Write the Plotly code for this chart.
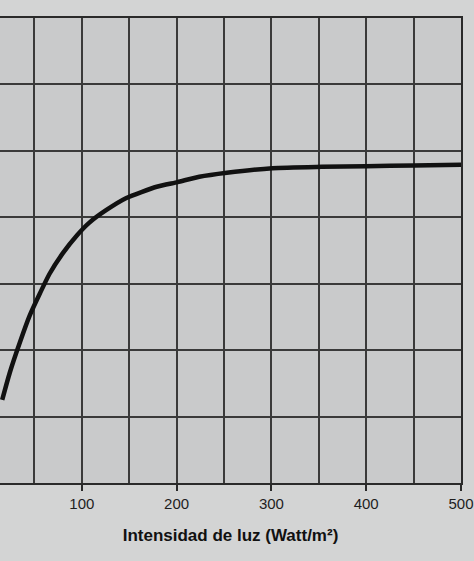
import plotly.graph_objects as go

# values (y in gridline units, axis labels not visible)
intensidad = [16, 24, 35, 45, 56, 66, 80, 95, 108, 126, 147, 179, 201, 224, 253, 301, 353, 400, 450, 500]
tasa = [1.25, 1.66, 2.13, 2.52, 2.86, 3.15, 3.46, 3.73, 3.92, 4.11, 4.29, 4.46, 4.53, 4.61, 4.67, 4.74, 4.76, 4.77, 4.78, 4.79]
x_ticks = [100, 200, 300, 400, 500]

fig = go.Figure()
fig.add_trace(go.Scatter(x=intensidad, y=tasa, mode='lines',
                         line=dict(color='#111111', width=4.5, shape='spline', smoothing=0.6),
                         showlegend=False, hoverinfo='skip'))

fig.update_layout(
    width=474, height=561,
    margin=dict(l=0, r=9, t=18, b=78),
    paper_bgcolor='#d3d4d4', plot_bgcolor='#c9cacb',
    font=dict(family='Liberation Sans, Arial, sans-serif', color='#1e1e1e'),
)
fig.update_xaxes(
    range=[13.7, 500], tickvals=x_ticks, ticks='outside', ticklen=6, tickwidth=1.5, tickcolor='#2a2a2a',
    tickfont=dict(size=15), ticklabeloverflow='allow',
    showgrid=True, gridcolor='#3a3a3a', gridwidth=1.5,
    minor=dict(dtick=50, tick0=0, showgrid=True, gridcolor='#3a3a3a', gridwidth=1.5, ticks=''),
    showline=True, linecolor='#2a2a2a', linewidth=2, mirror=True, zeroline=False,
    title=dict(text='<b>Intensidad de luz (Watt/m²)</b>', font=dict(size=17, color='#111111'), standoff=18),
)
fig.update_yaxes(
    range=[0, 7], dtick=1, showticklabels=False, showgrid=True, gridcolor='#3a3a3a', gridwidth=1.5,
    showline=True, linecolor='#2a2a2a', linewidth=2, mirror=True, zeroline=False,
)

# drop the default 8px page margin so the chart fills the window like the photo
fig.write_html("out.html", config={'displayModeBar': False},
               post_script="document.body.style.margin='0';document.body.style.background='#d3d4d4';"
                           "document.body.style.overflow='hidden';")
